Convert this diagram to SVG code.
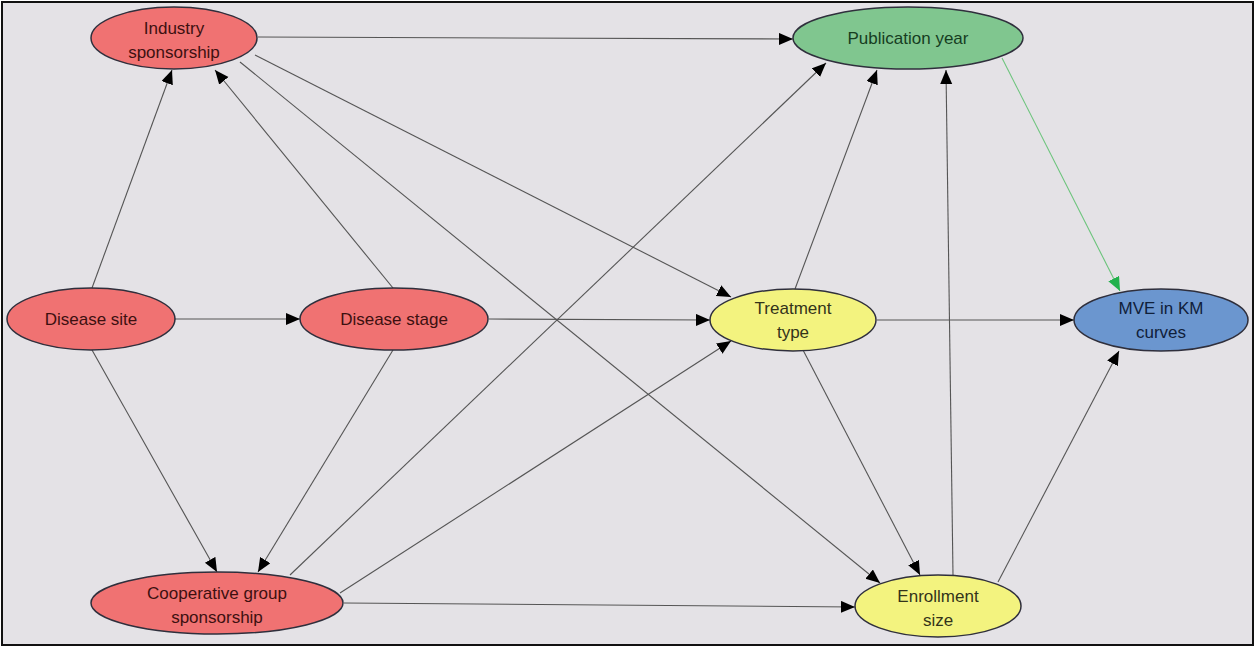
<svg xmlns="http://www.w3.org/2000/svg" width="1255" height="647" viewBox="0 0 1255 647">
<style>
.bg{fill:#e4e2e6;stroke:#111;stroke-width:2}
.n ellipse{stroke:#2f2f3c;stroke-width:1.5}
.red ellipse{fill:#f07272}
.red text{fill:#3d1010}
.green ellipse{fill:#80c68f}
.green text{fill:#163d1f}
.yellow ellipse{fill:#f3f37f}
.yellow text{fill:#33331a}
.blue ellipse{fill:#6b96cf}
.blue text{fill:#10203a}
text{font-family:"Liberation Sans",Arial,sans-serif;font-size:17px;text-anchor:middle}
.e line{stroke:#555;stroke-width:1.1;marker-end:url(#ah)}
.e line.g{stroke:#6cc47c;marker-end:url(#ahg)}
</style>
<defs>
<marker id="ah" markerUnits="userSpaceOnUse" markerWidth="15" markerHeight="13" refX="14" refY="6" orient="auto"><path d="M0,0 L14,6 L0,12 z" fill="#000"/></marker>
<marker id="ahg" markerUnits="userSpaceOnUse" markerWidth="15" markerHeight="13" refX="14" refY="6" orient="auto"><path d="M0,0 L14,6 L0,12 z" fill="#22b14c"/></marker>
</defs>
<rect class="bg" x="2" y="2" width="1251" height="643"/>
<g id="connectors" class="e">
<line x1="258" y1="37" x2="793" y2="39"/>
<line x1="255" y1="55" x2="731" y2="297"/>
<line x1="240" y1="62" x2="880" y2="583"/>
<line x1="92" y1="288" x2="172" y2="70"/>
<line x1="393" y1="288" x2="215" y2="70"/>
<line x1="175" y1="319" x2="300" y2="319"/>
<line x1="92" y1="350" x2="217" y2="572"/>
<line x1="393" y1="350" x2="258" y2="572"/>
<line x1="489" y1="319" x2="710" y2="320"/>
<line x1="290" y1="575" x2="826" y2="63"/>
<line x1="340" y1="593" x2="731" y2="341"/>
<line x1="344" y1="603" x2="855" y2="607"/>
<line x1="795" y1="289" x2="877" y2="70"/>
<line x1="877" y1="320" x2="1074" y2="320"/>
<line x1="803" y1="350" x2="920" y2="575"/>
<line x1="953" y1="575" x2="946" y2="70"/>
<line x1="998" y1="582" x2="1119" y2="351"/>
<line class="g" x1="1002" y1="58" x2="1120" y2="291"/>
</g>
<g id="industry" class="n red"><ellipse cx="174" cy="38" rx="83" ry="31"/><text x="174" y="34">Industry</text><text x="174" y="58">sponsorship</text></g>
<g id="publication" class="n green"><ellipse cx="908" cy="38" rx="115" ry="31"/><text x="908" y="44">Publication year</text></g>
<g id="site" class="n red"><ellipse cx="91" cy="319" rx="84" ry="31"/><text x="91" y="325">Disease site</text></g>
<g id="stage" class="n red"><ellipse cx="394" cy="319" rx="94" ry="31"/><text x="394" y="325">Disease stage</text></g>
<g id="treatment" class="n yellow"><ellipse cx="793" cy="320" rx="83" ry="31"/><text x="793" y="314">Treatment</text><text x="793" y="338">type</text></g>
<g id="mve" class="n blue"><ellipse cx="1161" cy="320" rx="87" ry="31"/><text x="1161" y="314">MVE in KM</text><text x="1161" y="338">curves</text></g>
<g id="cooperative" class="n red"><ellipse cx="217" cy="603" rx="126" ry="31"/><text x="217" y="599">Cooperative group</text><text x="217" y="623">sponsorship</text></g>
<g id="enrollment" class="n yellow"><ellipse cx="938" cy="606" rx="83" ry="31"/><text x="938" y="602">Enrollment</text><text x="938" y="626">size</text></g>
</svg>
